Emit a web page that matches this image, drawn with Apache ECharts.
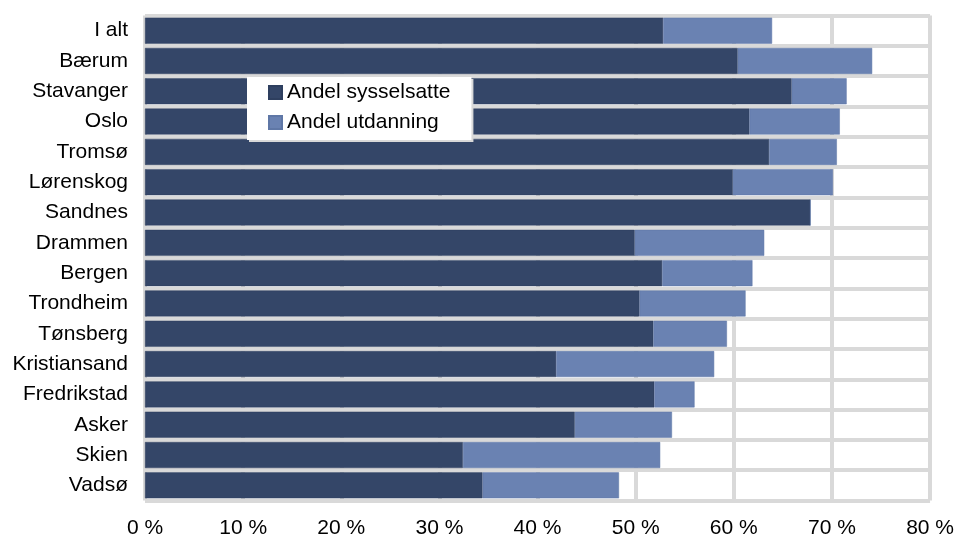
<!DOCTYPE html>
<html>
<head>
<meta charset="utf-8">
<script src="https://cdn.jsdelivr.net/npm/echarts@6/dist/echarts.min.js"></script>
<style>
  html, body { margin: 0; padding: 0; background: #fff; }
  #chart { width: 957px; height: 540px; }
</style>
</head>
<body>
<div id="chart"></div>
<script>
const categories = ["I alt", "Bærum", "Stavanger", "Oslo", "Tromsø", "Lørenskog", "Sandnes", "Drammen",
  "Bergen", "Trondheim", "Tønsberg", "Kristiansand", "Fredrikstad", "Asker", "Skien", "Vadsø"];
const sysselsatte = [52.8, 60.4, 65.9, 61.6, 63.6, 59.9, 67.8, 49.9, 52.7, 50.4, 51.8, 41.9, 51.9, 43.8, 32.4, 34.4];
const utdanning = [11.1, 13.7, 5.6, 9.2, 6.9, 10.2, 0, 13.2, 9.2, 10.8, 7.5, 16.1, 4.1, 9.9, 20.1, 13.9];
const xTicks = [0, 10, 20, 30, 40, 50, 60, 70, 80];

const font = '"Liberation Sans", Arial, sans-serif';
const gridGray = "#d9d9d9";

const chart = echarts.init(document.getElementById("chart"));
chart.setOption({
  animation: false,
  textStyle: { fontFamily: font },
  grid: { left: 145, right: 26, top: 15.5, bottom: 39.5 },
  legend: {
    orient: "vertical",
    left: 247,
    top: 77,
    padding: [5, 21, 7, 21],
    itemGap: 9,
    itemWidth: 13,
    itemHeight: 13,
    icon: "rect",
    backgroundColor: "#fff",
    shadowColor: gridGray,
    shadowBlur: 0,
    shadowOffsetX: 2,
    shadowOffsetY: 2,
    textStyle: { fontSize: 21, lineHeight: 20, color: "#000", fontFamily: font, padding: [0, 0, 0, 0] },
    data: ["Andel sysselsatte", "Andel utdanning"]
  },
  xAxis: {
    type: "value",
    min: xTicks[0],
    max: xTicks[xTicks.length - 1],
    interval: 10,
    axisLine: { show: false },
    axisTick: { show: false },
    axisLabel: { fontSize: 21, color: "#000", margin: 17, formatter: "{value} %" },
    splitLine: { show: true, lineStyle: { color: gridGray, width: 4 } }
  },
  yAxis: {
    type: "category",
    inverse: true,
    data: categories,
    axisLine: { show: false },
    axisTick: { show: false },
    axisLabel: { fontSize: 21, color: "#000", margin: 17 },
    splitLine: { show: true, lineStyle: { color: gridGray, width: 4 } }
  },
  series: [
    {
      name: "Andel sysselsatte",
      type: "bar",
      stack: "total",
      barWidth: 26,
      itemStyle: { color: "#344668", borderColor: "#2e3f5f", borderWidth: 0.5 },
      data: sysselsatte
    },
    {
      name: "Andel utdanning",
      type: "bar",
      stack: "total",
      barWidth: 26,
      itemStyle: { color: "#6a82b2", borderColor: "#5f77a6", borderWidth: 0.5 },
      data: utdanning
    }
  ]
});
</script>
</body>
</html>
